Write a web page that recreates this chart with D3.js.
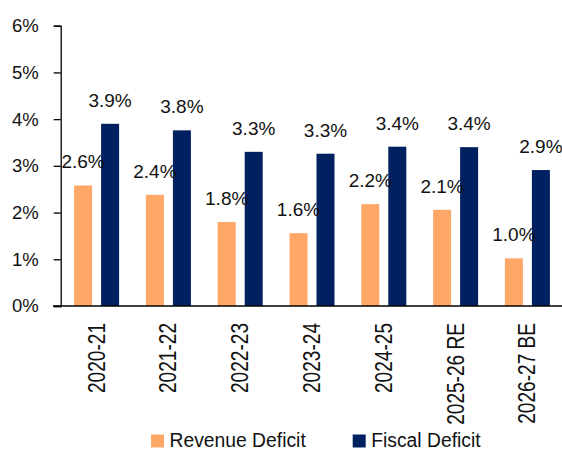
<!DOCTYPE html>
<html>
<head>
<meta charset="utf-8">
<script src="https://cdn.jsdelivr.net/npm/d3@7"></script>
<style>
  body { margin: 0; background: #fff; }
  svg { display: block; font-family: "Liberation Sans", Arial, sans-serif; }
</style>
</head>
<body>
<script>
const years = ["2020-21", "2021-22", "2022-23", "2023-24", "2024-25", "2025-26 RE", "2026-27 BE"];
const revenueDeficit = [2.6, 2.4, 1.8, 1.6, 2.2, 2.1, 1.0];
const fiscalDeficit = [3.9, 3.8, 3.3, 3.3, 3.4, 3.4, 2.9];
// bar heights (labels are rounded)
const revenueBars = [2.58, 2.38, 1.80, 1.56, 2.18, 2.06, 1.02];
const fiscalBars = [3.90, 3.76, 3.30, 3.26, 3.41, 3.40, 2.91];
const seriesNames = ["Revenue Deficit", "Fiscal Deficit"];
const seriesColors = ["#FFA767", "#002060"];
const yTicks = [0, 1, 2, 3, 4, 5, 6];

const width = 562, height = 452;
const svg = d3.select("body").append("svg").attr("width", width).attr("height", height);

const x = d3.scaleBand().domain(years).range([60.7, 563.3]);
const xs = d3.scaleBand().domain(seriesNames).range([-22.5, 22.5]).paddingInner(1 / 3);
const y = d3.scaleLinear().domain([0, 6]).range([306, 25.7]);

const rows = years.map((yr, i) => ({
  year: yr,
  vals: [
    {s: seriesNames[0], v: revenueBars[i], label: revenueDeficit[i]},
    {s: seriesNames[1], v: fiscalBars[i], label: fiscalDeficit[i]}
  ]
}));

// bars
const groups = svg.append("g").selectAll("g").data(rows).join("g")
  .attr("transform", d => `translate(${x(d.year) + x.bandwidth() / 2},0)`);

groups.selectAll("rect").data(d => d.vals).join("rect")
  .attr("x", d => xs(d.s))
  .attr("width", xs.bandwidth())
  .attr("y", d => y(d.v))
  .attr("height", d => y(0) - y(d.v))
  .attr("fill", (d, i) => seriesColors[i]);

groups.selectAll("text").data(d => d.vals).join("text")
  .attr("x", d => xs(d.s) + xs.bandwidth() / 2)
  .attr("y", d => y(d.v) - 17)
  .attr("text-anchor", "middle")
  .attr("font-size", "19px")
  .attr("fill", "#111")
  .text(d => d.label.toFixed(1) + "%");

// y axis
const yAxis = svg.append("g")
  .attr("transform", `translate(60.7,0)`)
  .call(d3.axisLeft(y).tickValues(yTicks).tickFormat(d => d + "%").tickSize(7).tickPadding(15));
yAxis.select(".domain").attr("stroke", "#000").attr("stroke-width", 1.3);
yAxis.selectAll(".tick line").attr("stroke", "#000").attr("stroke-width", 1.3);
yAxis.selectAll(".tick text").attr("font-size", "18.5px").attr("font-family", "Liberation Sans, Arial, sans-serif").attr("fill", "#111");

// x axis baseline
svg.append("line")
  .attr("x1", 53).attr("x2", width)
  .attr("y1", y(0)).attr("y2", y(0))
  .attr("stroke", "#000").attr("stroke-width", 1.3);

svg.append("g").selectAll("text").data(years).join("text")
  .attr("transform", d => `translate(${x(d) + x.bandwidth() / 2 + 8},323) rotate(-90) scale(0.83,1)`)
  .attr("text-anchor", "end")
  .attr("font-size", "23px")
  .attr("fill", "#111")
  .text(d => d);

// legend
const legendX = [151, 352.7];
const legend = svg.append("g").selectAll("g").data(seriesNames).join("g")
  .attr("transform", (d, i) => `translate(${legendX[i]},434.5)`);
legend.append("rect").attr("width", 13).attr("height", 13).attr("fill", (d, i) => seriesColors[i]);
legend.append("text")
  .attr("transform", "translate(18.5,12.8) scale(0.92,1)")
  .attr("font-size", "21px")
  .attr("fill", "#111")
  .text(d => d);
</script>
</body>
</html>
